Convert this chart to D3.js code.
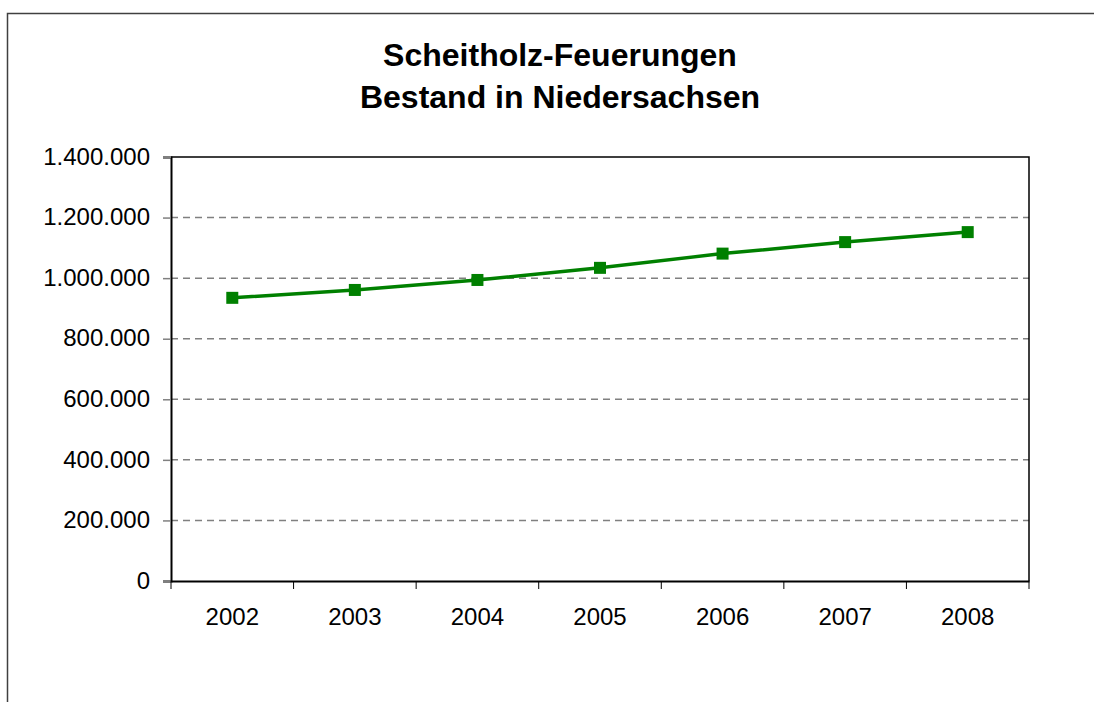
<!DOCTYPE html>
<html>
<head>
<meta charset="utf-8">
<script src="https://cdn.jsdelivr.net/npm/d3@7"></script>
<style>
  body { margin: 0; background: #fff; }
  svg { display: block; font-family: "Liberation Sans", Arial, sans-serif; }
</style>
</head>
<body>
<div id="wrapper"></div>
<script>
// data
const years = ["2002", "2003", "2004", "2005", "2006", "2007", "2008"]
const bestand = [935000, 961000, 994000, 1034000, 1081000, 1119000, 1152000]
const yTicks = [0, 200000, 400000, 600000, 800000, 1000000, 1200000, 1400000]
const titleLines = ["Scheitholz-Feuerungen", "Bestand in Niedersachsen"]

function drawChart() {
  const dimensions = {
    width: 1094,
    height: 702,
    margin: { top: 157, right: 65, bottom: 121, left: 171 },
  }
  dimensions.boundedWidth = dimensions.width - dimensions.margin.left - dimensions.margin.right
  dimensions.boundedHeight = dimensions.height - dimensions.margin.top - dimensions.margin.bottom

  const wrapper = d3.select("#wrapper")
    .append("svg")
      .attr("width", dimensions.width)
      .attr("height", dimensions.height)

  // outer chart frame (only top and left edges are inside the picture)
  wrapper.append("path")
    .attr("d", "M7.5,710 V13.5 H1100")
    .attr("fill", "none")
    .attr("stroke", "#404040")
    .attr("stroke-width", 1.5)

  // title
  const title = wrapper.append("text")
    .attr("text-anchor", "middle")
    .attr("font-weight", "bold")
    .attr("font-size", 32)
    .attr("fill", "#000")
  title.selectAll("tspan")
    .data(titleLines)
    .join("tspan")
      .attr("x", 560)
      .attr("y", (d, i) => 66 + i * 42)
      .text(d => d)

  const bounds = wrapper.append("g")
    .attr("transform", `translate(${dimensions.margin.left},${dimensions.margin.top})`)

  // scales
  const yScale = d3.scaleLinear()
    .domain([0, 1400000])
    .range([dimensions.boundedHeight, 0])

  const xScale = d3.scaleBand()
    .domain(years)
    .range([0, dimensions.boundedWidth])

  const fmt = v => d3.format(",")(v).replace(/,/g, ".")

  // gridlines
  bounds.append("g")
    .selectAll("line")
    .data(yTicks.filter(t => t > 0 && t < 1400000))
    .join("line")
      .attr("x1", 0)
      .attr("x2", dimensions.boundedWidth)
      .attr("y1", d => yScale(d))
      .attr("y2", d => yScale(d))
      .attr("stroke", "#808080")
      .attr("stroke-width", 1.5)
      .attr("stroke-dasharray", "7,5")

  // plot frame (top + right)
  bounds.append("path")
    .attr("d", `M0,0 H${dimensions.boundedWidth} V${dimensions.boundedHeight}`)
    .attr("fill", "none")
    .attr("stroke", "#000")
    .attr("stroke-width", 1.5)

  // y axis
  const yAxis = bounds.append("g")
    .call(d3.axisLeft(yScale).tickValues(yTicks).tickFormat(fmt).tickSize(8).tickPadding(13))
  yAxis.select(".domain").attr("stroke", "#000").attr("stroke-width", 2)
  yAxis.selectAll(".tick line").attr("stroke", "#808080").attr("stroke-width", 1.5)
  yAxis.selectAll(".tick text")
    .attr("font-size", 24)
    .attr("fill", "#000")
    .attr("dy", "0.3em")

  // x axis with ticks at category boundaries
  const xAxis = bounds.append("g")
    .attr("transform", `translate(0,${dimensions.boundedHeight})`)
    .call(d3.axisBottom(xScale).tickSize(0).tickPadding(27))
  xAxis.select(".domain").attr("stroke", "#000").attr("stroke-width", 2)
  xAxis.selectAll(".tick text")
    .attr("font-size", 24)
    .attr("fill", "#000")
  xAxis.append("g")
    .selectAll("line")
    .data(d3.range(years.length + 1))
    .join("line")
      .attr("x1", i => i * xScale.step())
      .attr("x2", i => i * xScale.step())
      .attr("y1", 0)
      .attr("y2", 8)
      .attr("stroke", "#000")
      .attr("stroke-width", 1)

  // line + markers
  const xAccessor = (d, i) => xScale(years[i]) + xScale.bandwidth() / 2
  const lineGenerator = d3.line()
    .x((d, i) => xAccessor(d, i))
    .y(d => yScale(d))

  bounds.append("path")
    .attr("d", lineGenerator(bestand))
    .attr("fill", "none")
    .attr("stroke", "#008000")
    .attr("stroke-width", 3.5)

  bounds.append("g")
    .selectAll("rect")
    .data(bestand)
    .join("rect")
      .attr("x", (d, i) => xAccessor(d, i) - 6)
      .attr("y", d => yScale(d) - 6)
      .attr("width", 12)
      .attr("height", 12)
      .attr("fill", "#008000")
}

drawChart()
</script>
</body>
</html>
